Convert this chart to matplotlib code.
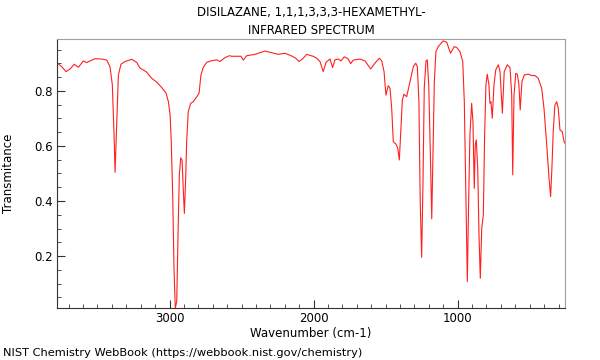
import matplotlib
matplotlib.use("Agg")
import matplotlib.pyplot as plt
from matplotlib.ticker import MultipleLocator

# spectrum (wavenumber in cm-1, transmittance)
wavenumber = [
    3781, 3772, 3748, 3718, 3690, 3661, 3633, 3598, 3575, 3552, 3517, 3471,
    3436, 3413, 3397, 3385, 3378, 3369, 3355, 3337, 3309, 3262, 3228, 3205,
    3175, 3158, 3124, 3089, 3054, 3024, 3008, 2996, 2988, 2978, 2969, 2960,
    2950, 2941, 2932, 2922, 2913, 2904, 2897, 2888, 2881, 2870, 2853, 2835,
    2811, 2795, 2782, 2766, 2742, 2707, 2673, 2650, 2615, 2585, 2568, 2504,
    2488, 2464, 2407, 2384, 2337, 2291, 2245, 2199, 2152, 2124, 2101, 2078,
    2048, 2018, 2002, 1979, 1956, 1933, 1914, 1886, 1868, 1852, 1829, 1810,
    1787, 1759, 1743, 1725, 1678, 1643, 1604, 1574, 1544, 1527, 1511, 1498,
    1482, 1470, 1458, 1447, 1428, 1416, 1405, 1396, 1384, 1373, 1354, 1331,
    1308, 1291, 1280, 1269, 1260, 1250, 1241, 1232, 1220, 1211, 1201, 1190,
    1180, 1171, 1162, 1151, 1135, 1100, 1076, 1050, 1024, 1007, 984, 965,
    954, 944, 933, 924, 915, 903, 894, 885, 878, 871, 861, 852, 843, 833,
    822, 813, 804, 795, 783, 776, 769, 760, 748, 736, 718, 706, 690, 677,
    656, 637, 625, 618, 609, 597, 586, 575, 566, 554, 538, 510, 486, 464,
    441, 417, 401, 382, 366, 355, 346, 337, 325, 313, 302, 290, 274, 262, 255,
]
transmittance = [
    0.897, 0.898, 0.888, 0.870, 0.880, 0.897, 0.886, 0.909, 0.903, 0.909, 0.917, 0.916,
    0.912, 0.888, 0.822, 0.640, 0.504, 0.640, 0.858, 0.897, 0.907, 0.915, 0.904, 0.883,
    0.874, 0.868, 0.846, 0.832, 0.812, 0.792, 0.761, 0.713, 0.616, 0.422, 0.155, 0.011,
    0.034, 0.276, 0.495, 0.557, 0.549, 0.434, 0.355, 0.482, 0.616, 0.725, 0.755, 0.761,
    0.779, 0.792, 0.858, 0.885, 0.904, 0.910, 0.913, 0.907, 0.921, 0.928, 0.926, 0.926,
    0.912, 0.928, 0.933, 0.937, 0.945, 0.939, 0.933, 0.937, 0.927, 0.919, 0.907, 0.916,
    0.933, 0.928, 0.926, 0.919, 0.907, 0.870, 0.904, 0.916, 0.885, 0.913, 0.916, 0.909,
    0.924, 0.916, 0.899, 0.912, 0.916, 0.909, 0.880, 0.901, 0.919, 0.909, 0.870, 0.785,
    0.819, 0.810, 0.737, 0.616, 0.606, 0.592, 0.549, 0.640, 0.767, 0.788, 0.779, 0.834,
    0.888, 0.901, 0.888, 0.761, 0.397, 0.195, 0.458, 0.810, 0.909, 0.913, 0.822, 0.579,
    0.335, 0.579, 0.834, 0.943, 0.961, 0.982, 0.977, 0.937, 0.961, 0.958, 0.943, 0.907,
    0.761, 0.458, 0.107, 0.397, 0.640, 0.755, 0.688, 0.446, 0.604, 0.622, 0.519, 0.276, 0.119, 0.301,
    0.349, 0.640, 0.822, 0.861, 0.822, 0.755, 0.761, 0.701, 0.822, 0.876, 0.895, 0.870, 0.719, 0.870,
    0.895, 0.885, 0.785, 0.495, 0.785, 0.864, 0.861, 0.822, 0.731, 0.834, 0.858, 0.861, 0.856, 0.856,
    0.846, 0.810, 0.737, 0.604, 0.482, 0.416, 0.519, 0.652, 0.749, 0.761, 0.737, 0.658, 0.652, 0.616, 0.610,
]

title_lines = "DISILAZANE, 1,1,1,3,3,3-HEXAMETHYL-\nINFRARED SPECTRUM"
x_label = "Wavenumber (cm-1)"
y_label = "Transmitance"
footer = "NIST Chemistry WebBook (https://webbook.nist.gov/chemistry)"

fig = plt.figure(figsize=(6, 3.6), dpi=100)
ax = fig.add_axes([0.095, 0.1444, 0.8467, 0.7459])

ax.plot(wavenumber, transmittance, color="#ff2020", lw=0.8)

ax.set_xlim(3781, 255)
ax.set_ylim(0.011, 0.987)

ax.xaxis.set_major_locator(MultipleLocator(1000))
ax.xaxis.set_minor_locator(MultipleLocator(100))
ax.yaxis.set_major_locator(MultipleLocator(0.2))
ax.yaxis.set_minor_locator(MultipleLocator(0.05))
ax.tick_params(which="both", direction="in", top=False, right=False,
               labelsize=8.5, color="#333333", pad=3)
ax.tick_params(which="major", length=6)
ax.tick_params(which="minor", length=3)

for side in ("top", "right"):
    ax.spines[side].set_color("#a0a0a0")
for side in ("left", "bottom"):
    ax.spines[side].set_color("#333333")

ax.set_title(title_lines, fontsize=8.5, pad=4, linespacing=1.45)
ax.set_xlabel(x_label, fontsize=8.5, labelpad=1)
ax.set_ylabel(y_label, fontsize=8.5, labelpad=14)

fig.text(0.005, 0.012, footer, fontsize=8.2, ha="left", va="baseline")

plt.savefig("out.png", dpi=100)
